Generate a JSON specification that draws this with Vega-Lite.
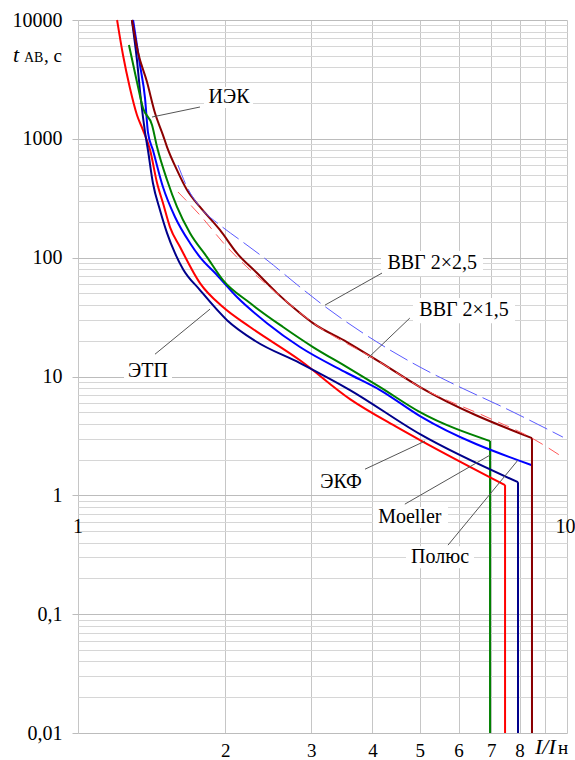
{
  "$schema": "https://vega.github.io/schema/vega-lite/v6.json",
  "width": 489,
  "height": 713,
  "autosize": {"type": "none"},
  "padding": {"left": 78, "top": 20, "right": 8, "bottom": 27},
  "background": "white",
  "config": {"view": {"stroke": null}, "font": "Liberation Serif"},
  "datasets": {
    "curves": [
      {"s": "ЭКФ", "x": 1.202, "y": 10000}, {"s": "ЭКФ", "x": 1.236, "y": 5074}, {"s": "ЭКФ", "x": 1.277, "y": 2677}, {"s": "ЭКФ", "x": 1.32, "y": 1587}, {"s": "ЭКФ", "x": 1.358, "y": 1186}, {"s": "ЭКФ", "x": 1.404, "y": 805}, {"s": "ЭКФ", "x": 1.451, "y": 425}, {"s": "ЭКФ", "x": 1.492, "y": 288}, {"s": "ЭКФ", "x": 1.542, "y": 181}, {"s": "ЭКФ", "x": 1.617, "y": 123}, {"s": "ЭКФ", "x": 1.776, "y": 61.1}, {"s": "ЭКФ", "x": 1.979, "y": 38.4}, {"s": "ЭКФ", "x": 2.248, "y": 26.1}, {"s": "ЭКФ", "x": 2.844, "y": 13.7}, {"s": "ЭКФ", "x": 3.599, "y": 6.46}, {"s": "ЭКФ", "x": 4.49, "y": 3.75}, {"s": "ЭКФ", "x": 5.005, "y": 2.92}, {"s": "ЭКФ", "x": 7.47, "y": 1.22},
      {"s": "ЭТП", "x": 1.289, "y": 10000}, {"s": "ЭТП", "x": 1.32, "y": 4605}, {"s": "ЭТП", "x": 1.345, "y": 2122}, {"s": "ЭТП", "x": 1.371, "y": 1141}, {"s": "ЭТП", "x": 1.39, "y": 805}, {"s": "ЭТП", "x": 1.423, "y": 425}, {"s": "ЭТП", "x": 1.471, "y": 252}, {"s": "ЭТП", "x": 1.521, "y": 161}, {"s": "ЭТП", "x": 1.579, "y": 109}, {"s": "ЭТП", "x": 1.64, "y": 80}, {"s": "ЭТП", "x": 1.776, "y": 53.4}, {"s": "ЭТП", "x": 2.017, "y": 29.8}, {"s": "ЭТП", "x": 2.3, "y": 20.0}, {"s": "ЭТП", "x": 2.844, "y": 12.97}, {"s": "ЭТП", "x": 3.599, "y": 7.69}, {"s": "ЭТП", "x": 5.005, "y": 3.27}, {"s": "ЭТП", "x": 7.94, "y": 1.29},
      {"s": "Полюс", "x": 1.296, "y": 10000}, {"s": "Полюс", "x": 1.339, "y": 4180}, {"s": "Полюс", "x": 1.371, "y": 2205}, {"s": "Полюс", "x": 1.39, "y": 1141}, {"s": "Полюс", "x": 1.423, "y": 805}, {"s": "Полюс", "x": 1.492, "y": 393}, {"s": "Полюс", "x": 1.579, "y": 220}, {"s": "Полюс", "x": 1.694, "y": 133}, {"s": "Полюс", "x": 1.776, "y": 101}, {"s": "Полюс", "x": 1.924, "y": 71.4}, {"s": "Полюс", "x": 2.114, "y": 46.6}, {"s": "Полюс", "x": 2.435, "y": 28.1}, {"s": "Полюс", "x": 2.844, "y": 17.7}, {"s": "Полюс", "x": 3.549, "y": 10.7}, {"s": "Полюс", "x": 4.147, "y": 7.69}, {"s": "Полюс", "x": 5.005, "y": 4.64}, {"s": "Полюс", "x": 8.48, "y": 1.79},
      {"s": "Moeller", "x": 1.271, "y": 6163}, {"s": "Moeller", "x": 1.32, "y": 3006}, {"s": "Moeller", "x": 1.358, "y": 1817}, {"s": "Moeller", "x": 1.417, "y": 1307}, {"s": "Moeller", "x": 1.451, "y": 853}, {"s": "Moeller", "x": 1.521, "y": 450}, {"s": "Moeller", "x": 1.594, "y": 267}, {"s": "Moeller", "x": 1.694, "y": 161}, {"s": "Moeller", "x": 1.836, "y": 101}, {"s": "Moeller", "x": 1.979, "y": 64.8}, {"s": "Moeller", "x": 2.248, "y": 41.5}, {"s": "Moeller", "x": 2.626, "y": 26.1}, {"s": "Moeller", "x": 3.024, "y": 17.7}, {"s": "Moeller", "x": 3.549, "y": 12.0}, {"s": "Moeller", "x": 4.147, "y": 8.14}, {"s": "Moeller", "x": 5.005, "y": 5.01}, {"s": "Moeller", "x": 6.96, "y": 2.86},
      {"s": "ИЭК", "x": 1.289, "y": 10000}, {"s": "ИЭК", "x": 1.326, "y": 5379}, {"s": "ИЭК", "x": 1.384, "y": 3006}, {"s": "ИЭК", "x": 1.437, "y": 1650}, {"s": "ИЭК", "x": 1.492, "y": 1076}, {"s": "ИЭК", "x": 1.521, "y": 853}, {"s": "ИЭК", "x": 1.594, "y": 546}, {"s": "ИЭК", "x": 1.671, "y": 371}, {"s": "ИЭК", "x": 1.776, "y": 267}, {"s": "ИЭК", "x": 1.951, "y": 171}, {"s": "ИЭК", "x": 2.114, "y": 109}, {"s": "ИЭК", "x": 2.323, "y": 74.2}, {"s": "ИЭК", "x": 2.553, "y": 50.3}, {"s": "ИЭК", "x": 2.844, "y": 34.2}, {"s": "ИЭК", "x": 3.024, "y": 28.1}, {"s": "ИЭК", "x": 3.549, "y": 19.5}, {"s": "ИЭК", "x": 4.147, "y": 13.2}, {"s": "ИЭК", "x": 5.005, "y": 8.14}, {"s": "ИЭК", "x": 8.48, "y": 3.03},
      {"s": "ВВГ 2×2,5", "x": 1.601, "y": 602}, {"s": "ВВГ 2×2,5", "x": 1.671, "y": 393}, {"s": "ВВГ 2×2,5", "x": 1.776, "y": 267}, {"s": "ВВГ 2×2,5", "x": 1.951, "y": 188}, {"s": "ВВГ 2×2,5", "x": 2.144, "y": 141}, {"s": "ВВГ 2×2,5", "x": 2.435, "y": 95.4}, {"s": "ВВГ 2×2,5", "x": 2.844, "y": 56.6}, {"s": "ВВГ 2×2,5", "x": 3.17, "y": 39.9}, {"s": "ВВГ 2×2,5", "x": 3.826, "y": 23.2}, {"s": "ВВГ 2×2,5", "x": 4.345, "y": 16.7}, {"s": "ВВГ 2×2,5", "x": 5.005, "y": 12.0}, {"s": "ВВГ 2×2,5", "x": 6.04, "y": 8.14}, {"s": "ВВГ 2×2,5", "x": 7.4, "y": 5.52}, {"s": "ВВГ 2×2,5", "x": 9.81, "y": 3.09},
      {"s": "ВВГ 2×1,5", "x": 1.601, "y": 357}, {"s": "ВВГ 2×1,5", "x": 1.776, "y": 228}, {"s": "ВВГ 2×1,5", "x": 2.017, "y": 123}, {"s": "ВВГ 2×1,5", "x": 2.216, "y": 83.4}, {"s": "ВВГ 2×1,5", "x": 2.505, "y": 53.4}, {"s": "ВВГ 2×1,5", "x": 3.009, "y": 28.7}, {"s": "ВВГ 2×1,5", "x": 4.147, "y": 13.2}, {"s": "ВВГ 2×1,5", "x": 5.005, "y": 8.14}, {"s": "ВВГ 2×1,5", "x": 6.86, "y": 4.55}, {"s": "ВВГ 2×1,5", "x": 8.48, "y": 3.03}, {"s": "ВВГ 2×1,5", "x": 9.86, "y": 2.06}
    ],
    "drops": [
      {"s": "Moeller", "x": 6.96, "y": 2.86, "y2": 0.01},
      {"s": "ЭКФ", "x": 7.47, "y": 1.22, "y2": 0.01},
      {"s": "ЭТП", "x": 7.94, "y": 1.29, "y2": 0.01},
      {"s": "Полюс", "x": 8.48, "y": 1.79, "y2": 0.01}
    ],
    "boxes": [
      {"x": 1.81, "x2": 2.28, "y": 2729, "y2": 1817},
      {"x": 4.165, "x2": 6.734, "y": 113.7, "y2": 70.0},
      {"x": 4.843, "x2": 7.83, "y": 45.7, "y2": 28.1},
      {"x": 1.242, "x2": 1.557, "y": 13.5, "y2": 8.97},
      {"x": 3.096, "x2": 3.845, "y": 1.57, "y2": 1.04},
      {"x": 4.012, "x2": 5.71, "y": 0.796, "y2": 0.53},
      {"x": 4.686, "x2": 6.454, "y": 0.373, "y2": 0.244}
    ],
    "leaders": [
      {"x": 1.776, "y": 1853, "x2": 1.417, "y2": 1526},
      {"x": 4.185, "y": 74.2, "x2": 3.2, "y2": 39.9},
      {"x": 4.77, "y": 31.0, "x2": 3.918, "y2": 14.3},
      {"x": 1.437, "y": 15.4, "x2": 1.862, "y2": 36.9},
      {"x": 3.863, "y": 1.66, "x2": 5.125, "y2": 2.86},
      {"x": 4.66, "y": 0.843, "x2": 6.96, "y2": 2.18},
      {"x": 5.71, "y": 0.381, "x2": 7.94, "y2": 1.98}
    ],
    "labels": [
      {"x": 2.036, "y": 2249, "t": "ИЭК"},
      {"x": 5.3, "y": 90.1, "t": "ВВГ 2×2,5"},
      {"x": 6.16, "y": 36.2, "t": "ВВГ 2×1,5"},
      {"x": 1.39, "y": 11.1, "t": "ЭТП"},
      {"x": 3.45, "y": 1.29, "t": "ЭКФ"},
      {"x": 4.77, "y": 0.655, "t": "Moeller"},
      {"x": 5.5, "y": 0.302, "t": "Полюс"},
      {"x": 1, "y": 0.54, "t": "1"},
      {"x": 9.93, "y": 0.54, "t": "10"}
    ]
  },
  "encoding": {
    "x": {
      "field": "x", "type": "quantitative",
      "scale": {"type": "log", "domain": [1, 10], "nice": false},
      "axis": {
        "values": [1, 2, 3, 4, 5, 6, 7, 8, 9, 10],
        "title": null, "grid": true, "gridColor": "#c6c6c6", "gridWidth": 1,
        "domain": false, "ticks": false, "tickSize": 0,
        "labelExpr": "datum.value >= 2 && datum.value <= 8 ? format(datum.value, 'd') : ''",
        "labelFont": "Liberation Serif", "labelFontSize": 19, "labelColor": "#000000",
        "labelPadding": 23, "labelBaseline": "alphabetic", "labelOverlap": false, "labelFlush": false
      }
    },
    "y": {
      "field": "y", "type": "quantitative",
      "scale": {"type": "log", "domain": [0.01, 10000], "nice": false},
      "axis": {
        "values": [0.01, 0.02, 0.03, 0.04, 0.05, 0.06, 0.07, 0.08, 0.09, 0.1, 0.2, 0.3, 0.4, 0.5, 0.6, 0.7, 0.8, 0.9, 1, 2, 3, 4, 5, 6, 7, 8, 9, 10, 20, 30, 40, 50, 60, 70, 80, 90, 100, 200, 300, 400, 500, 600, 700, 800, 900, 1000, 2000, 3000, 4000, 5000, 6000, 7000, 8000, 9000, 10000],
        "title": null, "grid": true,
        "gridColor": {"condition": {"test": "indexof([0.01, 0.1, 1, 10, 100, 1000, 10000], datum.value) >= 0", "value": "#bcbcbc"}, "value": "#d6d6d6"},
        "gridWidth": 1, "domain": false, "ticks": true, "tickSize": 6, "tickColor": "#bcbcbc",
        "tickOpacity": {"condition": {"test": "indexof([0.01, 0.1, 1, 10, 100, 1000, 10000], datum.value) >= 0", "value": 1}, "value": 0},
        "labelExpr": "datum.value == 0.01 ? '0,01' : datum.value == 0.1 ? '0,1' : indexof([1, 10, 100, 1000, 10000], datum.value) >= 0 ? format(datum.value, 'd') : ''",
        "labelFont": "Liberation Serif", "labelFontSize": 20, "labelColor": "#000000",
        "labelPadding": 10, "labelBaseline": "middle", "labelOverlap": false, "labelFlush": false
      }
    }
  },
  "layer": [
    {
      "data": {"name": "boxes"},
      "mark": {"type": "rect", "fill": "white"},
      "encoding": {"x2": {"field": "x2"}, "y2": {"field": "y2"}}
    },
    {
      "data": {"name": "drops"},
      "mark": {"type": "rule", "strokeWidth": 2},
      "encoding": {
        "y2": {"field": "y2"},
        "color": {"field": "s", "type": "nominal", "scale": {"domain": ["Полюс", "ЭТП", "ЭКФ", "Moeller", "ИЭК"], "range": ["#0000ff", "#00008b", "#ff0000", "#008000", "#8b0000"]}, "legend": null}
      }
    },
    {
      "data": {"name": "curves"},
      "transform": [{"filter": "datum.s == 'Полюс' || datum.s == 'ЭТП' || datum.s == 'ЭКФ' || datum.s == 'Moeller'"}],
      "mark": {"type": "line", "strokeWidth": 2, "interpolate": "monotone"},
      "encoding": {
        "color": {"field": "s", "type": "nominal", "legend": null},
        "order": {"field": "x"}
      }
    },
    {
      "data": {"values": [{"x": 8.48, "y": 3.03, "y2": 0.01}]},
      "mark": {"type": "rule", "strokeWidth": 2, "color": "#8b0000"},
      "encoding": {"y2": {"field": "y2"}}
    },
    {
      "data": {"name": "curves"},
      "transform": [{"filter": "datum.s == 'ИЭК'"}],
      "mark": {"type": "line", "strokeWidth": 2, "color": "#8b0000", "interpolate": "monotone"},
      "encoding": {"order": {"field": "x"}}
    },
    {
      "data": {"name": "curves"},
      "transform": [{"filter": "datum.s == 'ВВГ 2×2,5'"}],
      "mark": {"type": "line", "strokeWidth": 1, "color": "#5a5aff", "strokeDash": [20, 6], "interpolate": "monotone"},
      "encoding": {"order": {"field": "x"}}
    },
    {
      "data": {"name": "curves"},
      "transform": [{"filter": "datum.s == 'ВВГ 2×1,5'"}],
      "mark": {"type": "line", "strokeWidth": 1, "color": "#ff5a5a", "strokeDash": [12, 7], "interpolate": "monotone"},
      "encoding": {"order": {"field": "x"}}
    },
    {
      "data": {"name": "leaders"},
      "mark": {"type": "rule", "color": "#555555", "strokeWidth": 1},
      "encoding": {"x2": {"field": "x2"}, "y2": {"field": "y2"}}
    },
    {
      "data": {"name": "labels"},
      "mark": {"type": "text", "font": "Liberation Serif", "fontSize": 20, "align": "center", "baseline": "middle", "color": "#000000"},
      "encoding": {"text": {"field": "t"}}
    },
    {
      "data": {"values": [{"x": 0.7364, "y": 4430, "t": "t"}, {"x": 8.603, "y": 0.0066, "t": "I/I"}]},
      "mark": {"type": "text", "font": "Liberation Serif", "fontSize": 22, "fontStyle": "italic", "align": "left", "baseline": "alphabetic", "color": "#000000"},
      "encoding": {"text": {"field": "t"}}
    },
    {
      "data": {"values": [{"x": 0.7754, "y": 4430, "t": "АВ"}]},
      "mark": {"type": "text", "font": "Liberation Serif", "fontSize": 14, "align": "left", "baseline": "alphabetic", "color": "#000000"},
      "encoding": {"text": {"field": "t"}}
    },
    {
      "data": {"values": [{"x": 0.852, "y": 4430, "t": ", с"}, {"x": 9.585, "y": 0.0066, "t": "н"}]},
      "mark": {"type": "text", "font": "Liberation Serif", "fontSize": 19, "align": "left", "baseline": "alphabetic", "color": "#000000"},
      "encoding": {"text": {"field": "t"}}
    }
  ]
}
